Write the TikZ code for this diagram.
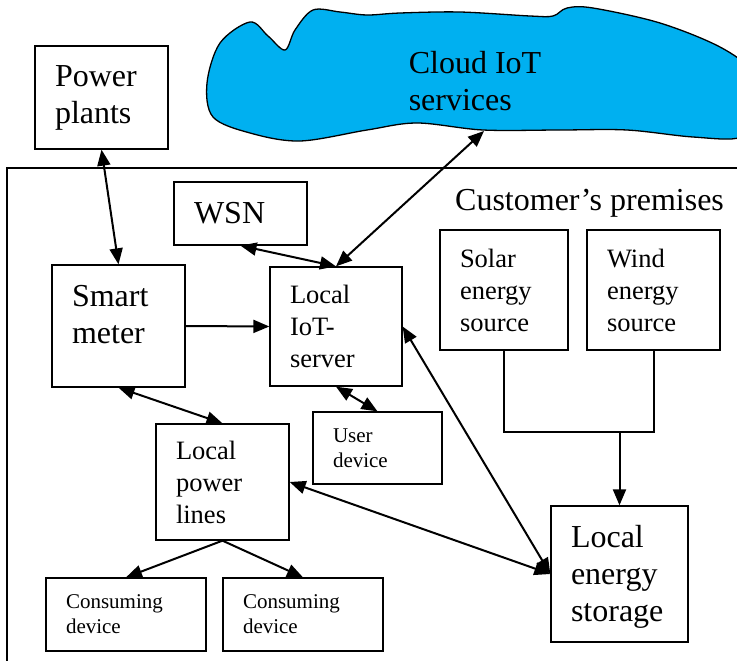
\documentclass[tikz,border=0pt]{standalone}
\usepackage{fontspec}
\setmainfont{Liberation Serif}
\usetikzlibrary{arrows.meta}
\definecolor{cloudblue}{HTML}{00B0F0}
\newcommand{\bigtxt}{\fontsize{32}{37}\selectfont}
\newcommand{\midtxt}{\fontsize{26.5}{32}\selectfont}
\newcommand{\smalltxt}{\fontsize{21}{25}\selectfont}
\begin{document}
\begin{tikzpicture}[x=1pt,y=-1pt,>={Triangle[length=16pt,width=13pt]}]
            \useasboundingbox (0,0) rectangle (737,661);
            \clip (0,0) rectangle (737,661);

            % cloud
            \draw[line width=1.3pt,fill=cloudblue] plot[smooth cycle,tension=0.55] coordinates {
                (207,83) (220,43) (250,22) (268,36) (285,50) (295,30) (313,10)
                (340,12) (367,15) (400,13) (460,12) (530,16) (553,16) (567,8)
                (593,8) (660,23) (720,47) (752,72) (762,110) (742,137) (693,137)
                (627,130) (560,130) (483,130) (417,123) (367,130) (300,141)
                (250,133) (213,117)};
            \node[align=left,font=\bigtxt] (CT) at (475,81) {Cloud IoT\\services};
            \coordinate (CL) at (484,131);

            % customer's premises
            \draw[line width=1.3pt] (7,168) rectangle (760,700);
            \node[anchor=base west,inner sep=0pt,font=\bigtxt] (CP) at (455,210) {Customer's premises};

            \begin{scope}[every node/.style={draw,line width=1.3pt,align=left,inner xsep=20pt,inner ysep=0pt}]
                \node[text width=93pt,minimum height=103pt,font=\bigtxt] (PP) at (101.5,97.5) {Power\\plants};
                \node[text width=93pt,minimum height=63pt,font=\bigtxt] (WS) at (240.5,213.5) {WSN};
                \node[text width=93pt,minimum height=122pt,text depth=60pt,font=\bigtxt] (SM) at (118.5,326) {Smart\\meter};
                \node[text width=92pt,minimum height=119pt,font=\midtxt] (LS) at (336,326.5) {Local\\IoT-\\server};
                \node[text width=88pt,minimum height=120pt,font=\midtxt] (SO) at (504,290) {Solar\\energy\\source};
                \node[text width=93pt,minimum height=120pt,font=\midtxt] (WI) at (653.5,290) {Wind\\energy\\source};
                \node[text width=89pt,minimum height=72pt,font=\smalltxt] (UD) at (377.5,448) {User\\device};
                \node[text width=93pt,minimum height=116pt,font=\midtxt] (LP) at (222.5,482) {Local\\power\\lines};
                \node[text width=120pt,minimum height=73pt,font=\smalltxt] (C1) at (126,614.5) {Consuming\\device};
                \node[text width=120pt,minimum height=73pt,font=\smalltxt] (C2) at (303,614.5) {Consuming\\device};
                \node[text width=97pt,minimum height=136pt,text depth=75pt,font=\bigtxt] (LE) at (619.5,574) {Local\\energy\\storage};
            \end{scope}

            \begin{scope}[line width=2pt]
                \path [<->] (PP.south) edge (SM.north);
                \path [<->] (LS.north) edge (CL);
                \path [<->] (WS.south) edge (LS.north);
                \path [->] (SM.east) edge (LS.west);
                \path [<->] (SM.south) edge (LP.north);
                \path [<->] (LS.south) edge (UD.north);
                \path [<->] (LS.east) edge (LE.west);
                \path [<->] (LP.east) edge (LE.west);
                \path [->] (LP.south) edge (C1.north);
                \path [->] (LP.south) edge (C2.north);
                \coordinate (J) at (619.5,432);
                \draw (SO.south) |- (J) -| (WI.south);
                \draw [->] (J) -- (LE.north);
            \end{scope}
\end{tikzpicture}
\end{document}
